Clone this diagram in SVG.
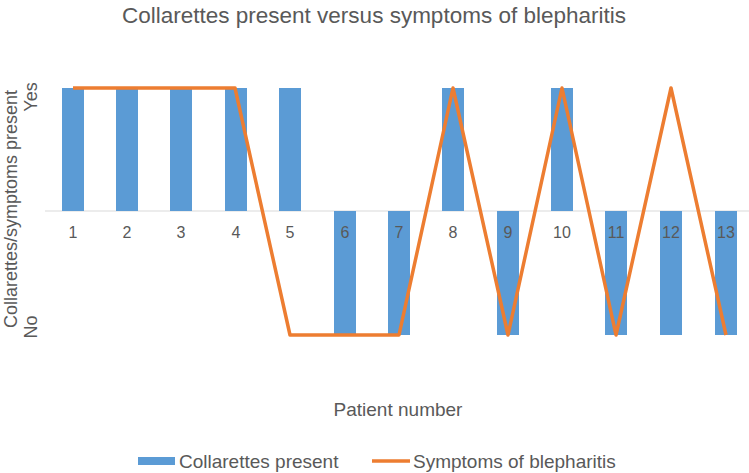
<svg xmlns="http://www.w3.org/2000/svg" width="749" height="473" viewBox="0 0 749 473">
<style>
text{font-family:"Liberation Sans",Arial,sans-serif;fill:#595959}
.t{font-size:16px;text-anchor:middle}
.bar{fill:#5b9bd5}
</style>
<rect width="749" height="473" fill="#fff"/>
<text x="374" y="23" style="font-size:22.5px" text-anchor="middle">Collarettes present versus symptoms of blepharitis</text>
<line x1="45" y1="211" x2="749" y2="211" stroke="#d9d9d9" stroke-width="1"/>
<g id="bars">
<rect class="bar" x="62" y="88" width="22" height="123"/>
<rect class="bar" x="116" y="88" width="22" height="123"/>
<rect class="bar" x="170" y="88" width="22" height="123"/>
<rect class="bar" x="225" y="88" width="22" height="123"/>
<rect class="bar" x="279" y="88" width="22" height="123"/>
<rect class="bar" x="334" y="211" width="22" height="124"/>
<rect class="bar" x="388" y="211" width="22" height="124"/>
<rect class="bar" x="442" y="88" width="22" height="123"/>
<rect class="bar" x="497" y="211" width="22" height="124"/>
<rect class="bar" x="551" y="88" width="22" height="123"/>
<rect class="bar" x="605" y="211" width="22" height="124"/>
<rect class="bar" x="660" y="211" width="22" height="124"/>
<rect class="bar" x="715" y="211" width="22" height="124"/>
</g>
<g id="connectors">
<polyline points="73,88 127,88 181,88 235,88 290,335 344,335 399,335 453,88 508,335 562,88 616,335 671,88 726,335" fill="none" stroke="#ed7d31" stroke-width="3.5" stroke-linejoin="round"/>
</g>
<g id="labels">
<text class="t" x="73" y="238">1</text><text class="t" x="127" y="238">2</text><text class="t" x="181" y="238">3</text><text class="t" x="236" y="238">4</text><text class="t" x="290" y="238">5</text><text class="t" x="345" y="238">6</text><text class="t" x="399" y="238">7</text><text class="t" x="453" y="238">8</text><text class="t" x="508" y="238">9</text><text class="t" x="562" y="238">10</text><text class="t" x="616" y="238">11</text><text class="t" x="671" y="238">12</text><text class="t" x="726" y="238">13</text>
<text x="398" y="416" style="font-size:19px" text-anchor="middle">Patient number</text>
<text transform="translate(17,209) rotate(-90)" style="font-size:18px" text-anchor="middle">Collarettes/symptoms present</text>
<text transform="translate(37,97) rotate(-90)" style="font-size:18px" text-anchor="middle">Yes</text>
<text transform="translate(37,327) rotate(-90)" style="font-size:18px" text-anchor="middle">No</text>
</g>
<g id="legend">
<rect class="bar" x="138" y="457" width="37" height="8"/>
<text x="179" y="468" style="font-size:19px">Collarettes present</text>
<line x1="372" y1="461" x2="410" y2="461" stroke="#ed7d31" stroke-width="3.5"/>
<text x="413" y="468" style="font-size:19px">Symptoms of blepharitis</text>
</g>
</svg>
